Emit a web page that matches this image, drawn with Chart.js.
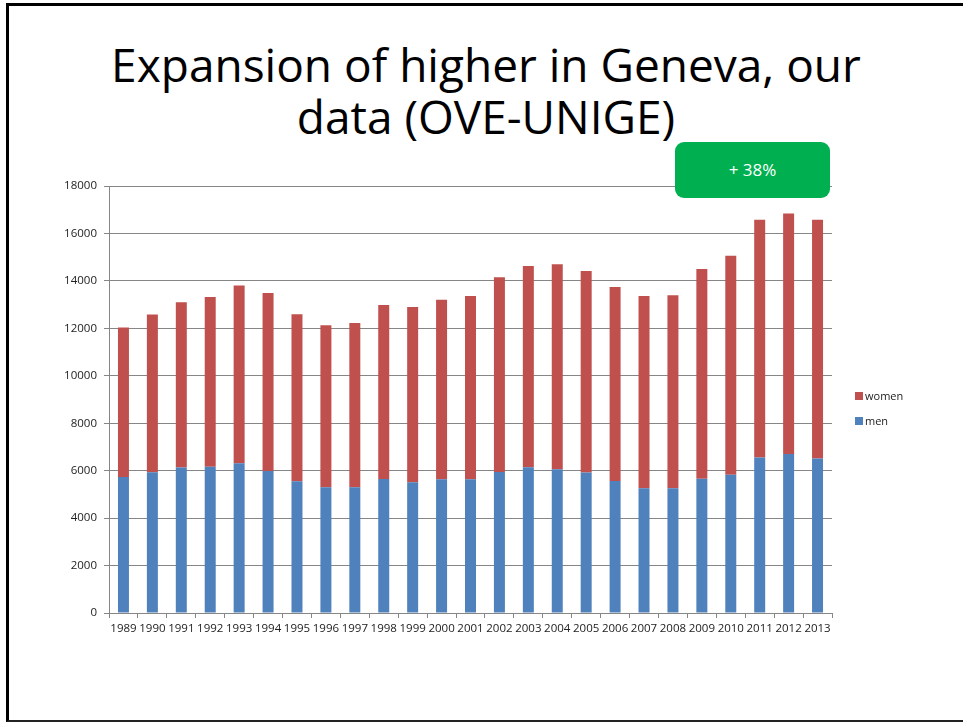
<!DOCTYPE html>
<html>
<head>
<meta charset="utf-8">
<script src="https://cdn.jsdelivr.net/npm/chart.js@4"></script>
<style>
    html, body {
        margin: 0;
        padding: 0;
        background: #fff;
    }
    .slide {
        position: relative;
        width: 963px;
        height: 722px;
        overflow: hidden;
        font-family: 'Open Sans', sans-serif;
    }
    .frame {
        position: absolute;
        left: 6px;
        top: 3px;
        width: 970px;
        height: 714px;
        border-left: 3px solid #000;
        border-top: 3px solid #000;
        border-bottom: 2px solid #222;
    }
    .title {
        position: absolute;
        left: 0;
        width: 972px;
        top: 38px;
        text-align: center;
        font-size: 46px;
        line-height: 52px;
        color: #000;
    }
    .badge {
        position: absolute;
        left: 675px;
        top: 142px;
        width: 155px;
        height: 56px;
        border-radius: 9px;
        background: #00b050;
        color: #fff;
        font-size: 17px;
        line-height: 56px;
        text-align: center;
    }
    .legend {
        position: absolute;
        left: 855px;
        top: 389px;
        font-size: 11px;
        color: #222;
    }
    .legend div {
        height: 25px;
        line-height: 14px;
    }
    .legend span {
        display: inline-block;
        width: 8px;
        height: 8px;
        margin-right: 2px;
        vertical-align: 0px;
    }
    #chartWrap {
        position: absolute;
        left: 0;
        top: 150px;
        width: 963px;
        height: 500px;
    }
</style>
</head>
<body>
<div class="slide">
    <div class="frame"></div>
    <div class="title">Expansion of higher in Geneva, our<br>data (OVE-UNIGE)</div>
    <div id="chartWrap"><canvas id="enrolChart"></canvas></div>
    <div class="badge">+ 38%</div>
    <div class="legend">
        <div><span style="background:#c0504d"></span>women</div>
        <div><span style="background:#4f81bd"></span>men</div>
    </div>
</div>
<script>
// Students enrolled
const years = ['1989', '1990', '1991', '1992', '1993', '1994', '1995', '1996', '1997',
    '1998', '1999', '2000', '2001', '2002', '2003', '2004', '2005', '2006', '2007',
    '2008', '2009', '2010', '2011', '2012', '2013'];

const men = [5730, 5930, 6130, 6170, 6310, 5990, 5550, 5300, 5300, 5650, 5510, 5640, 5640,
    5940, 6140, 6060, 5920, 5560, 5260, 5260, 5660, 5830, 6560, 6700, 6510];

const women = [6310, 6650, 6970, 7150, 7500, 7500, 7040, 6830, 6930, 7330, 7390, 7560, 7720,
    8210, 8490, 8640, 8500, 8180, 8100, 8130, 8840, 9230, 10020, 10140, 10070];

const yTicks = [0, 2000, 4000, 6000, 8000, 10000, 12000, 14000, 16000, 18000];

const tickFont = {
    size: 11.5,
    family: 'Open Sans'
};

const ctx = document.getElementById('enrolChart').getContext('2d');

new Chart(ctx, {
    type: 'bar',
    data: {
        labels: years,
        datasets: [
            {
                label: 'men',
                data: men,
                backgroundColor: '#4f81bd',
                barPercentage: 0.38,
                categoryPercentage: 1
            },
            {
                label: 'women',
                data: women,
                backgroundColor: '#c0504d',
                barPercentage: 0.38,
                categoryPercentage: 1
            }
        ]
    },
    options: {
        responsive: true,
        maintainAspectRatio: false,
        animation: false,
        layout: {
            padding: {
                top: 36,
                right: 131,
                bottom: 0,
                left: 0
            }
        },
        plugins: {
            legend: {
                display: false
            },
            tooltip: {
                enabled: false
            }
        },
        scales: {
            x: {
                stacked: true,
                offset: true,
                grid: {
                    offset: true,
                    drawOnChartArea: false,
                    drawTicks: true,
                    tickLength: 5,
                    color: '#868686'
                },
                border: {
                    color: '#868686'
                },
                ticks: {
                    autoSkip: false,
                    maxRotation: 0,
                    padding: 4,
                    color: '#222',
                    font: tickFont
                },
                afterFit: (scale) => {
                    scale.height = 37;
                }
            },
            y: {
                stacked: true,
                min: 0,
                max: 18000,
                afterBuildTicks: (scale) => {
                    scale.ticks = yTicks.map(v => ({ value: v }));
                },
                grid: {
                    color: '#868686',
                    tickLength: 5
                },
                border: {
                    color: '#868686'
                },
                ticks: {
                    padding: 7,
                    color: '#222',
                    font: tickFont,
                    callback: (value) => String(value)
                },
                afterFit: (scale) => {
                    scale.width = 109;
                }
            }
        }
    }
});
</script>
</body>
</html>
